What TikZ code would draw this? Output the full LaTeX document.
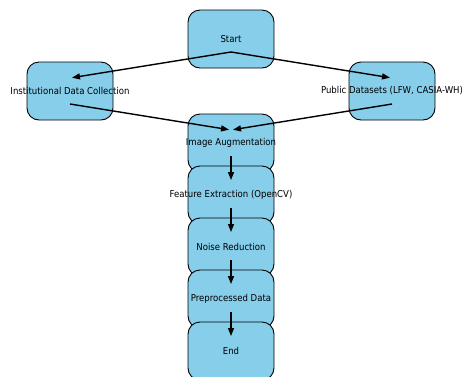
\documentclass[tikz,border=0pt]{standalone}
\usepackage{fontspec}
\setmainfont{DejaVu Sans}[FakeStretch=0.9]
\usetikzlibrary{arrows.meta}
\definecolor{boxblue}{RGB}{135,206,235}
% label set in a zero-width box so long captions do not widen the box
\newcommand\stagetext[1]{\makebox[0pt]{#1}}
\begin{document}
\begin{tikzpicture}[x=1pt,y=-1pt,
  stage/.style={draw=black, line width=0.9pt, fill=boxblue, rounded corners=12pt,
    minimum width=86pt, minimum height=58pt, inner sep=0pt,
    font=\fontsize{9.5}{11}\selectfont},
  flow/.style={-{Triangle[length=8pt,width=6pt]}, line width=1.4pt, shorten >=2pt}]
\clip (0,0) rectangle (464,376);
\useasboundingbox (0,0) rectangle (464,376);
% stages
\node[stage] (start) at (231,39)  {\stagetext{Start}};
\node[stage] (inst)  at (70,91)   {\stagetext{Institutional Data Collection}};
\node[stage] (pub)   at (392,91)  {\stagetext{Public Datasets (LFW, CASIA-WH)}};
\node[stage] (aug)   at (231,143) {\stagetext{Image Augmentation}};
\node[stage] (feat)  at (231,195) {\stagetext{Feature Extraction (OpenCV)}};
\node[stage] (noise) at (231,247) {\stagetext{Noise Reduction}};
\node[stage] (prep)  at (231,299) {\stagetext{Preprocessed Data}};
\node[stage] (stop)  at (231,351) {\stagetext{End}};
% connectors
\draw[flow] ([yshift=-13pt]start.center) -- ([yshift=13pt]inst.center);
\draw[flow] ([yshift=-13pt]start.center) -- ([yshift=13pt]pub.center);
\draw[flow] ([yshift=-13pt]inst.center)  -- ([yshift=13pt]aug.center);
\draw[flow] ([yshift=-13pt]pub.center)   -- ([yshift=13pt]aug.center);
\draw[flow] ([yshift=-13pt]aug.center)   -- ([yshift=13pt]feat.center);
\draw[flow] ([yshift=-13pt]feat.center)  -- ([yshift=13pt]noise.center);
\draw[flow] ([yshift=-13pt]noise.center) -- ([yshift=13pt]prep.center);
\draw[flow] ([yshift=-13pt]prep.center)  -- ([yshift=13pt]stop.center);
\end{tikzpicture}
\end{document}
